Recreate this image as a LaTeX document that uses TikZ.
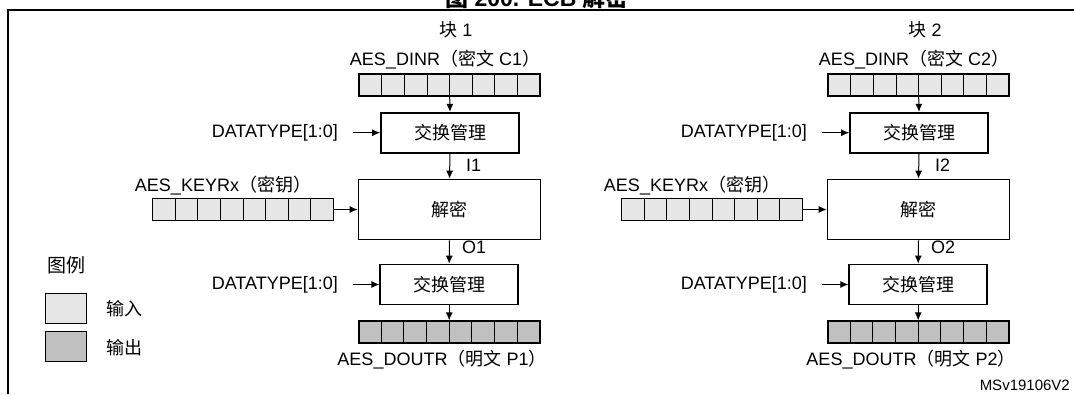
\documentclass[tikz,border=0pt]{standalone}
\usepackage{fontspec}
\setmainfont{Liberation Sans}
\newfontfamily\cjk{Noto Sans CJK SC}
\usetikzlibrary{arrows.meta,calc}
\definecolor{infill}{HTML}{E6E6E6}
\definecolor{outfill}{HTML}{C0C0C0}
\newcommand{\zh}[1]{{\cjk #1}}
\begin{document}
\begin{tikzpicture}[x=1pt,y=-1pt,
  lbl/.style={font=\fontsize{18}{20}\selectfont, inner sep=0pt},
  procbox/.style={draw, line width=1.7pt, minimum width=138pt, minimum height=40pt, inner sep=0pt, font=\fontsize{18}{20}\selectfont},
  regbox/.style={draw, line width=1.6pt, minimum width=181pt, minimum height=22pt, inner sep=0pt,
    path picture={\foreach \i in {1,...,7}{\draw[line width=1pt]
      ($(path picture bounding box.north west)!\i/8!(path picture bounding box.north east)$) --
      ($(path picture bounding box.south west)!\i/8!(path picture bounding box.south east)$);}}},
  legbox/.style={draw, line width=1.5pt, minimum width=41pt, minimum height=30pt, inner sep=0pt},
  arr/.style={-{Latex[length=8pt,width=7pt]}, line width=1pt}]
\useasboundingbox (0,0) rectangle (1074,394);

% frame
\draw[line width=2pt] (1074,10) -- (7.5,10) -- (7.5,394);
\node[font=\bfseries\fontsize{23}{25}\selectfont, anchor=base, inner sep=0pt] (title) at (537,6.5) {\zh{图} 200. ECB \zh{解密}};

\foreach \ox/\n in {0/1,469/2}{
  \node[lbl] (head\n) at ({\ox+456},30) {\zh{块} \n};
  \node[lbl] (dinlbl\n) at ({\ox+445},60) {AES\_DINR\zh{（密文} C\n\zh{）}};
  \node[regbox, fill=infill] (din\n) at ({\ox+449.7},85) {};
  \node[procbox] (swa\n) at ({\ox+450},132.7) {\zh{交换管理}};
  \node[lbl, anchor=east] (dta\n) at ({\ox+338},132.7) {DATATYPE[1:0]};
  \node[procbox, minimum width=182pt, minimum height=60pt] (dec\n) at ({\ox+449.5},209.5) {\zh{解密}};
  \node[lbl] (keylbl\n) at ({\ox+223},186) {AES\_KEYRx\zh{（密钥）}};
  \node[regbox, fill=infill] (key\n) at ({\ox+243},209.5) {};
  \node[procbox] (swb\n) at ({\ox+449.2},284.5) {\zh{交换管理}};
  \node[lbl, anchor=east] (dtb\n) at ({\ox+338},284.5) {DATATYPE[1:0]};
  \node[regbox, fill=outfill] (dout\n) at ({\ox+449.2},332.2) {};
  \node[lbl] (doutlbl\n) at ({\ox+442},360) {AES\_DOUTR\zh{（明文} P\n\zh{）}};
  \node[lbl, anchor=west] (ilbl\n) at ({\ox+466},165) {I\n};
  \node[lbl, anchor=west] (olbl\n) at ({\ox+462},247) {O\n};

  \draw[arr] (din\n.south) -- (swa\n.north);
  \draw[arr] (dta\n.east) ++(15,0) -- (swa\n.west);
  \draw[arr] (swa\n.south) -- (dec\n.north);
  \draw[arr] (key\n.east) -- (dec\n.west);
  \draw[arr] (dec\n.south) -- (swb\n.north);
  \draw[arr] (dtb\n.east) ++(15,0) -- (swb\n.west);
  \draw[arr] (swb\n.south) -- (dout\n.north);
}

% legend
\node[lbl, font=\fontsize{19}{21}\selectfont] (legtitle) at (66,265) {\zh{图例}};
\node[legbox, fill=infill] (legin) at (65.8,308.3) {};
\node[legbox, fill=outfill] (legout) at (65.8,346.7) {};
\node[lbl] (legintxt) at (124,308.3) {\zh{输入}};
\node[lbl] (legouttxt) at (124,347.7) {\zh{输出}};

\node[lbl, font=\fontsize{15}{17}\selectfont, anchor=east] (docid) at (1070,385) {MSv19106V2};
\end{tikzpicture}
\end{document}
